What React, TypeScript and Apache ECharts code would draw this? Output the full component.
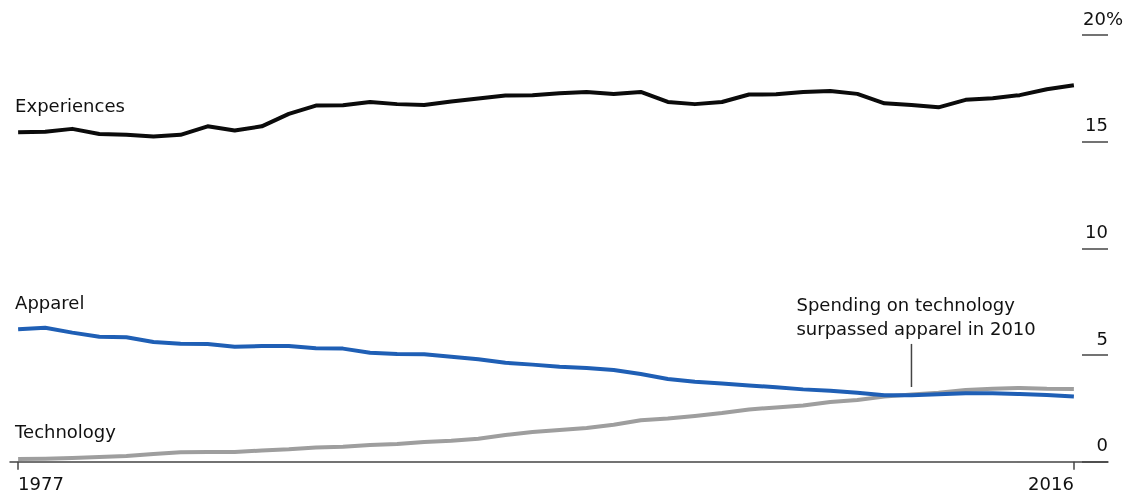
import { useEffect, useRef } from "react";
import * as echarts from "echarts";

// Share of consumer spending, %
const years = [
  1977, 1978, 1979, 1980, 1981, 1982, 1983, 1984, 1985, 1986,
  1987, 1988, 1989, 1990, 1991, 1992, 1993, 1994, 1995, 1996,
  1997, 1998, 1999, 2000, 2001, 2002, 2003, 2004, 2005, 2006,
  2007, 2008, 2009, 2010, 2011, 2012, 2013, 2014, 2015, 2016,
];

const experiences = [
  15.44, 15.47, 15.6, 15.36, 15.33, 15.24, 15.32, 15.72, 15.52, 15.72,
  16.3, 16.69, 16.71, 16.86, 16.76, 16.72, 16.88, 17.02, 17.16, 17.18,
  17.27, 17.33, 17.24, 17.33, 16.86, 16.76, 16.86, 17.21, 17.22, 17.33,
  17.38, 17.24, 16.8, 16.72, 16.61, 16.96, 17.04, 17.18, 17.46, 17.64,
];

const apparel = [
  6.21, 6.28, 6.05, 5.86, 5.83, 5.61, 5.53, 5.52, 5.39, 5.42,
  5.42, 5.32, 5.3, 5.11, 5.05, 5.04, 4.92, 4.8, 4.64, 4.55,
  4.45, 4.39, 4.3, 4.11, 3.88, 3.75, 3.66, 3.57, 3.49, 3.39,
  3.33, 3.23, 3.11, 3.12, 3.16, 3.21, 3.21, 3.17, 3.13, 3.06,
];

const technology = [
  0.13, 0.14, 0.17, 0.22, 0.27, 0.36, 0.44, 0.45, 0.45, 0.53,
  0.58, 0.66, 0.7, 0.78, 0.83, 0.92, 0.98, 1.08, 1.25, 1.39,
  1.49, 1.58, 1.73, 1.94, 2.02, 2.14, 2.28, 2.45, 2.54, 2.63,
  2.8, 2.89, 3.05, 3.15, 3.23, 3.36, 3.42, 3.46, 3.42, 3.41,
];

const seriesNames = ["Experiences", "Apparel", "Technology"];
const seriesColors = ["#0b0b0b", "#1f5fb5", "#9e9e9e"];
const yTicks = [0, 5, 10, 15, 20];
const xLabels = [1977, 2016];

const noteLines = ["Spending on technology", "surpassed apparel in 2010"];
const noteYear = 2010;
const noteFrom = 3.5;
const noteTo = 5.52;

const FONT = '"DejaVu Sans", Verdana, sans-serif';
const INK = "#111";
const RULE = "#444";

export default function App() {
  const ref = useRef<HTMLDivElement>(null);

  useEffect(() => {
    if (!ref.current) return;
    const chart = echarts.init(ref.current, null, { renderer: "svg" });
    const pairs = (vals: number[]) => years.map((y, i) => [y, vals[i]]);
    const allSeries = [experiences, apparel, technology];

    // draw order: technology, apparel, experiences
    const order = [2, 1, 0];

    chart.setOption({
      animation: false,
      grid: { left: 10, right: 21, top: 35, bottom: 34.3 },
      xAxis: {
        type: "value",
        min: 1976.7,
        max: 2017.26,
        splitLine: { show: false },
        axisLine: { show: true, lineStyle: { color: RULE, width: 1.5 } },
        axisTick: {
          show: true,
          customValues: xLabels,
          length: 8,
          lineStyle: { color: RULE, width: 1.5 },
        },
        axisLabel: {
          customValues: xLabels,
          formatter: (v: number) => String(v),
          color: INK,
          fontSize: 18,
          fontFamily: FONT,
          margin: 13,
          alignMinLabel: "left",
          alignMaxLabel: "right",
        },
      },
      yAxis: {
        type: "value",
        position: "right",
        min: yTicks[0],
        max: yTicks[yTicks.length - 1],
        interval: 5,
        splitLine: { show: false },
        axisLine: { show: false },
        axisTick: {
          show: true,
          inside: true,
          length: 26,
          lineStyle: { color: RULE, width: 1.5 },
        },
        axisLabel: {
          inside: true,
          margin: -15,
          align: "right",
          verticalAlign: "bottom",
          formatter: (v: number) =>
            v === yTicks[yTicks.length - 1] ? `{top|${v}%}` : `{num|${v}}`,
          rich: {
            top: {
              fontSize: 18,
              fontFamily: FONT,
              color: INK,
              padding: [0, 0, 8, 0],
            },
            num: {
              fontSize: 18,
              fontFamily: FONT,
              color: INK,
              padding: [0, 15, 8, 0],
            },
          },
        },
      },
      series: order.map((k) => ({
        name: seriesNames[k],
        type: "line",
        data: pairs(allSeries[k]),
        showSymbol: false,
        symbol: "none",
        lineStyle: { color: seriesColors[k], width: 4, join: "round" },
        itemStyle: { color: seriesColors[k] },
        z: 2 + (2 - k),
      })),
    });

    // name labels sit just above each line's first point
    const graphics: any[] = [];
    allSeries.forEach((vals, k) => {
      const p = chart.convertToPixel({ gridIndex: 0 }, [years[0], vals[0]]);
      graphics.push({
        type: "text",
        x: p[0] - 3,
        y: p[1] - 27,
        style: {
          text: seriesNames[k],
          fontSize: 18,
          fontFamily: FONT,
          fill: INK,
          align: "left",
          verticalAlign: "middle",
        },
      });
    });

    const a = chart.convertToPixel({ gridIndex: 0 }, [noteYear, noteFrom]);
    const b = chart.convertToPixel({ gridIndex: 0 }, [noteYear, noteTo]);
    graphics.push({
      type: "line",
      shape: { x1: a[0], y1: a[1], x2: b[0], y2: b[1] },
      style: { stroke: RULE, lineWidth: 1.5 },
    });
    noteLines.forEach((t, i) => {
      graphics.push({
        type: "text",
        x: b[0] - 115,
        y: b[1] - 39 + i * 24,
        style: {
          text: t,
          fontSize: 18,
          fontFamily: FONT,
          fill: INK,
          align: "left",
          verticalAlign: "middle",
        },
      });
    });

    chart.setOption({ graphic: graphics });

    return () => chart.dispose();
  }, []);

  return (
    <div
      ref={ref}
      style={{ position: "fixed", left: 0, top: 0, width: 1129, height: 496 }}
    />
  );
}
